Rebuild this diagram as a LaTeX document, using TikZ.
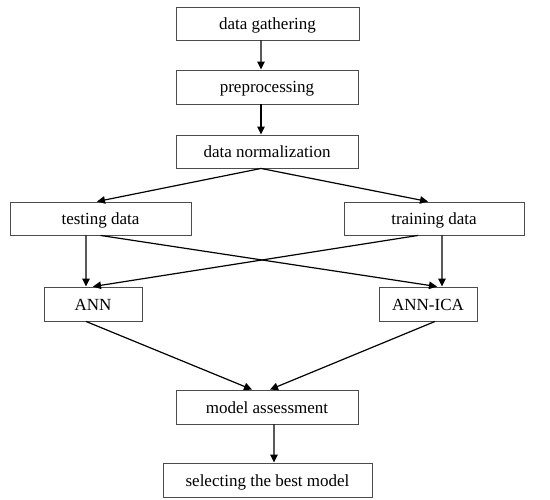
\documentclass[tikz,border=0pt]{standalone}
\usepackage{fontspec}
\setmainfont{Liberation Serif}
\usetikzlibrary{arrows.meta}
\begin{document}
\begin{tikzpicture}[x=1bp,y=-1bp,
  box/.style={draw=black!70,line width=0.9bp,rectangle,inner sep=0pt,anchor=center,
    text height=13bp,text depth=1bp,
    font=\fontsize{17bp}{20bp}\selectfont},
  arr/.style={draw=black,line width=1.2bp,-{Triangle[length=8bp,width=7.5bp]}}]
\useasboundingbox[fill=white] (0,0) rectangle (550,500);
\node[box,minimum width=183bp,minimum height=33bp] (gather) at (267.5,23.5) {data gathering};
\node[box,minimum width=182bp,minimum height=34bp] (prep) at (267,87) {preprocessing};
\node[box,minimum width=182bp,minimum height=33bp] (norm) at (267,151.5) {data normalization};
\node[box,minimum width=181bp,minimum height=33bp] (test) at (100.5,218.5) {testing data};
\node[box,minimum width=180bp,minimum height=33bp] (train) at (434,218.5) {training data};
\node[box,minimum width=98bp,minimum height=34bp] (ann) at (93,304) {ANN};
\node[box,minimum width=98bp,minimum height=34bp] (annica) at (428,304) {ANN-ICA};
\node[box,minimum width=182bp,minimum height=34bp] (assess) at (267,407) {model assessment};
\node[box,minimum width=209bp,minimum height=34bp] (select) at (267.5,480) {selecting the best model};
\draw[arr] ([xshift=-6.5bp]gather.south) -- ([xshift=-6bp]prep.north);
\draw[arr] ([xshift=-6bp]prep.south) -- ([xshift=-6bp]norm.north);
\draw[arr] ([xshift=-6bp]norm.south) -- ([xshift=-3.5bp]test.north);
\draw[arr] ([xshift=-6bp]norm.south) -- ([xshift=-6bp]train.north);
\draw[arr] ([xshift=-14.5bp]test.south) -- ([xshift=-7bp]ann.north);
\draw[arr] ([xshift=8bp]train.south) -- ([xshift=14bp]annica.north);
\draw[arr] ([xshift=0bp]test.south) -- ([xshift=9bp]annica.north);
\draw[arr] ([xshift=-16bp]train.south) -- ([xshift=0bp]ann.north);
\draw[arr] ([xshift=-7bp]ann.south) -- ([xshift=-15bp]assess.north);
\draw[arr] ([xshift=7bp]annica.south) -- ([xshift=3bp]assess.north);
\draw[arr] ([xshift=7bp]assess.south) -- ([xshift=6.5bp]select.north);
\end{tikzpicture}
\end{document}
